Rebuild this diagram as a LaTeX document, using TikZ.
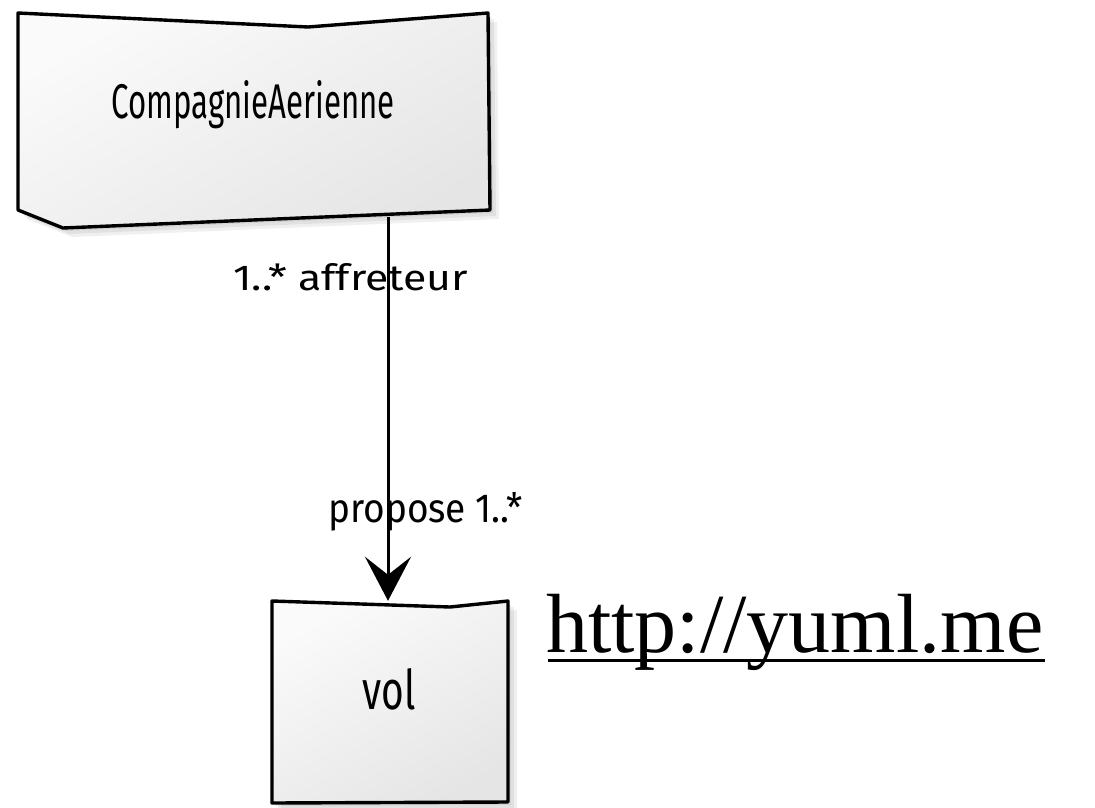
\documentclass[tikz,border=0pt]{standalone}
\usepackage{fontspec}
\setmainfont{Liberation Serif}
\newfontfamily\hand{Fira Sans}
\usetikzlibrary{arrows.meta}
\begin{document}
\begin{tikzpicture}[x=1pt,y=-1pt,
  sketch/.style={draw=black, line width=3.4pt, line join=round, top color=black!2, bottom color=black!10, shading angle=30},
  shadowpoly/.style={fill=black, fill opacity=0.06, draw=none},
  handtext/.style={inner sep=0pt, text=black},
  boxanchor/.style={draw=none, inner sep=0pt},
  assoc/.style={draw=black, line width=3pt, -{Stealth[length=44pt, width=46pt, inset=18pt]}}
]
\useasboundingbox (0,0) rectangle (1095,808);
\fill[white] (0,0) rectangle (1095,808);

% shadows
\foreach \s in {3,6,9}{
  \path[shadowpoly] ([xshift=\s pt, yshift=-\s pt]18,13) -- ([xshift=\s pt, yshift=-\s pt]308,27) -- ([xshift=\s pt, yshift=-\s pt]488,13) -- ([xshift=\s pt, yshift=-\s pt]490,210) -- ([xshift=\s pt, yshift=-\s pt]63,228) -- ([xshift=\s pt, yshift=-\s pt]18,210) -- cycle;
  \path[shadowpoly] ([xshift=\s pt, yshift=-\s pt]272,601) -- ([xshift=\s pt, yshift=-\s pt]450,607) -- ([xshift=\s pt, yshift=-\s pt]508,601) -- ([xshift=\s pt, yshift=-\s pt]508,802) -- ([xshift=\s pt, yshift=-\s pt]272,803) -- cycle;
}

% CompagnieAerienne box
\draw[sketch] (18,13) -- (308,27) -- (488,13) -- (490,210) -- (63,228) -- (18,210) -- cycle;
\node[boxanchor, minimum width=472pt, minimum height=202pt] (ca) at (254,116) {};
\node[handtext, anchor=base] (catext) at (253,118) {\resizebox{283pt}{38pt}{\hand CompagnieAerienne}};

% vol box
\draw[sketch] (272,601) -- (450,607) -- (508,601) -- (508,802) -- (272,803) -- cycle;
\node[boxanchor, minimum width=236pt, minimum height=202pt] (vol) at (388,702) {};
\node[handtext, anchor=base] (voltext) at (389,709) {\resizebox{53pt}{41pt}{\hand vol}};

% association
\draw[assoc] (ca.south -| vol.north) -- (vol.north);

% role labels
\node[handtext, anchor=base west] (lab1) at (233,290) {\resizebox{235pt}{27pt}{\hand 1..* affreteur}};
\node[handtext, anchor=base west] (lab2) at (328,522) {\resizebox{194pt}{30pt}{\hand propose 1..*}};

% url
\node[handtext, anchor=base west] (url) at (546,652) {\fontsize{84pt}{90pt}\selectfont http://yuml.me};
\draw[line width=3pt] (548,660) -- (1045,660);
\end{tikzpicture}
\end{document}
